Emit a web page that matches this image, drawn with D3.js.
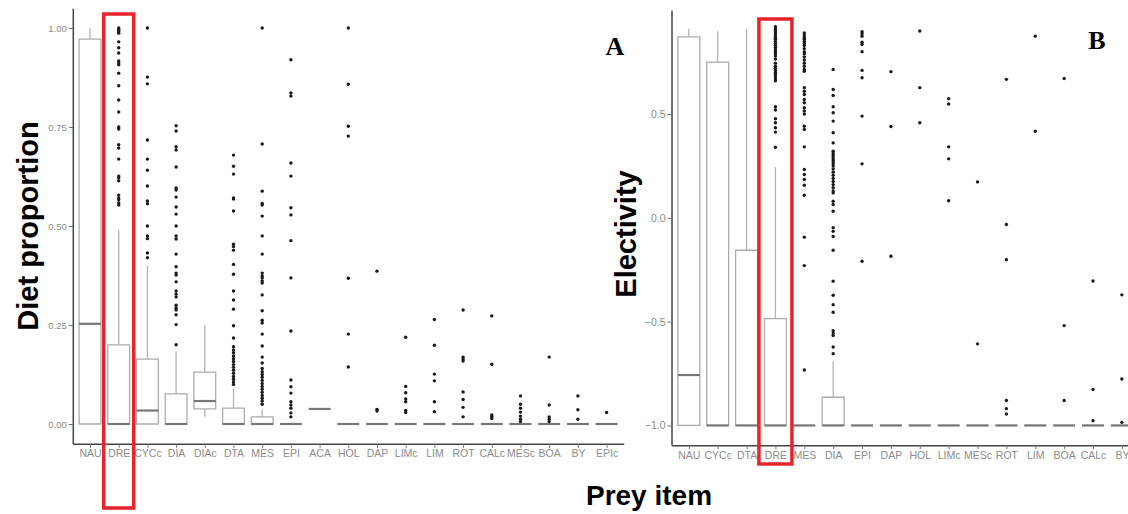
<!DOCTYPE html>
<html>
<head>
<meta charset="utf-8">
<script src="https://cdn.jsdelivr.net/npm/d3@7"></script>
<style>
  body { margin: 0; background: #fff; }
  svg { display: block; }
</style>
</head>
<body>
<figure id="chart" style="margin:0"></figure>
<script>
// ---- panel A: diet proportion ----
const catsA = ["NAU","DRE","CYCc","DIA","DIAc","DTA","MES","EPI","ACA","HOL","DAP","LIMc","LIM","ROT","CALc","MESc","BOA","BY","EPIc"];
const loA  = [0, 0, 0, 0, 0.018, 0, 0, 0, 0.038, 0, 0, 0, 0, 0, 0, 0, 0, 0, 0];
const q1A  = [0, 0, 0, 0, 0.038, 0, 0, 0, 0.038, 0, 0, 0, 0, 0, 0, 0, 0, 0, 0];
const medA = [0.253, 0, 0.034, 0, 0.058, 0, 0, 0, 0.038, 0, 0, 0, 0, 0, 0, 0, 0, 0, 0];
const q3A  = [0.972, 0.20, 0.164, 0.076, 0.131, 0.04, 0.018, 0, 0.038, 0, 0, 0, 0, 0, 0, 0, 0, 0, 0];
const hiA  = [1.0, 0.49, 0.40, 0.183, 0.25, 0.09, 0.037, 0, 0.038, 0, 0, 0, 0, 0, 0, 0, 0, 0, 0];
const outA = [
  [],
  [1.0,0.997,0.992,0.987,0.965,0.95,0.937,0.917,0.912,0.907,0.886,0.854,0.818,0.788,0.75,0.745,0.705,0.697,0.669,0.626,0.621,0.614,0.578,0.571,0.566,0.558,0.553],
  [1.0,0.876,0.859,0.717,0.669,0.641,0.601,0.563,0.556,0.5,0.475,0.468,0.432,0.42],
  [0.753,0.74,0.70,0.692,0.649,0.596,0.591,0.573,0.548,0.53,0.5,0.475,0.467,0.429,0.397,0.381,0.376,0.359,0.336,0.328,0.321,0.30,0.293,0.288,0.276,0.251,0.20],
  [],
  [0.679,0.651,0.631,0.571,0.568,0.538,0.454,0.448,0.439,0.403,0.378,0.336,0.313,0.29,0.248,0.217,0.195,0.187,0.18,0.172,0.165,0.158,0.15,0.143,0.136,0.128,0.12,0.113,0.106,0.10],
  [1.0,0.707,0.588,0.557,0.553,0.525,0.475,0.429,0.381,0.374,0.369,0.361,0.356,0.326,0.286,0.262,0.255,0.227,0.197,0.169,0.154,0.14,0.132,0.125,0.118,0.11,0.102,0.095,0.088,0.08,0.072,0.065,0.058,0.05],
  [0.92,0.836,0.828,0.659,0.626,0.546,0.528,0.463,0.369,0.235,0.111,0.094,0.078,0.056,0.048,0.04,0.028,0.018],
  [],
  [1.0,0.858,0.752,0.727,0.368,0.227,0.144],
  [0.386,0.037,0.033],
  [0.219,0.095,0.079,0.063,0.056,0.034,0.029],
  [0.264,0.199,0.126,0.109,0.056,0.031],
  [0.288,0.169,0.164,0.159,0.081,0.062,0.042,0.018],
  [0.273,0.151,0.023,0.018,0.014],
  [0.071,0.05,0.04,0.03,0.02,0.012,0.006],
  [0.169,0.048,0.018,0.012,0.006],
  [0.071,0.036,0.012],
  [0.029]
];
const ticksA = [0, 0.25, 0.5, 0.75, 1.0];

// ---- panel B: electivity ----
const catsB = ["NAU","CYCc","DTA","DRE","MES","DIA","EPI","DAP","HOL","LIMc","MESc","ROT","LIM","BOA","CALc","BY"];
const loB  = [-1, -1, -1, -1, -1, -1, -1, -1, -1, -1, -1, -1, -1, -1, -1, -1];
const q1B  = [-1, -1, -1, -1, -1, -1, -1, -1, -1, -1, -1, -1, -1, -1, -1, -1];
const medB = [-0.757, -1, -1, -1, -1, -1, -1, -1, -1, -1, -1, -1, -1, -1, -1, -1];
const q3B  = [0.872, 0.75, -0.156, -0.485, -1, -0.864, -1, -1, -1, -1, -1, -1, -1, -1, -1, -1];
const hiB  = [0.911, 0.899, 0.907, 0.244, -1, -0.691, -1, -1, -1, -1, -1, -1, -1, -1, -1, -1];
const outB = [
  [],
  [],
  [],
  [0.92,0.91,0.90,0.89,0.88,0.87,0.86,0.85,0.84,0.83,0.82,0.81,0.80,0.79,0.78,0.765,0.745,0.73,0.72,0.71,0.70,0.69,0.68,0.67,0.66,0.535,0.519,0.477,0.458,0.434,0.413,0.34],
  [0.891,0.88,0.87,0.86,0.85,0.84,0.83,0.815,0.80,0.79,0.775,0.76,0.745,0.73,0.715,0.706,0.627,0.61,0.594,0.57,0.554,0.53,0.515,0.50,0.441,0.426,0.342,0.233,0.209,0.185,0.157,0.109,-0.093,-0.23,-0.733],
  [0.715,0.618,0.589,0.535,0.506,0.466,0.41,0.361,0.321,0.31,0.30,0.29,0.28,0.27,0.26,0.25,0.235,0.22,0.205,0.19,0.175,0.16,0.145,0.13,0.12,0.08,0.064,0.032,-0.048,-0.065,-0.09,-0.156,-0.305,-0.373,-0.418,-0.455,-0.543,-0.555,-0.567,-0.622,-0.654],
  [0.896,0.887,0.875,0.846,0.835,0.80,0.71,0.675,0.49,0.26,-0.209],
  [0.704,0.44,-0.185],
  [0.9,0.627,0.458],
  [0.574,0.548,0.342,0.284,0.082],
  [0.173,-0.607],
  [0.667,-0.032,-0.202,-0.88,-0.919,-0.945],
  [0.875,0.417],
  [0.671,-0.519,-0.88],
  [-0.304,-0.827,-0.977],
  [-0.371,-0.776,-0.985]
];
const ticksB = [-1.0, -0.5, 0.0, 0.5];

const width = 1128, height = 514;

const svg = d3.select("#chart")
  .append("svg")
  .attr("width", width)
  .attr("height", height);

function drawPanel(cfg) {
  const x = d3.scalePoint()
    .domain(cfg.cats)
    .range(cfg.xRange)
    .padding(0.6);
  const y = d3.scaleLinear()
    .domain(cfg.yDomain)
    .range(cfg.yRange);
  const hw = x.step() * 0.38;

  const g = svg.append("g");

  // y axis
  const yAxis = g.append("g")
    .attr("transform", "translate(" + cfg.xRange[0] + ",0)")
    .call(d3.axisLeft(y).tickValues(cfg.ticks).tickFormat(cfg.fmt).tickSize(4).tickSizeOuter(0));
  yAxis.select(".domain").attr("stroke", "#444").attr("stroke-width", 1.5);
  yAxis.selectAll(".tick line").attr("stroke", "#777");
  yAxis.selectAll("text")
    .attr("fill", "#8c8c8c")
    .style("font-family", "Liberation Sans, Arial, sans-serif")
    .style("font-size", cfg.yFont + "px")
    .attr("x", -6);

  // x axis
  const xAxis = g.append("g")
    .attr("transform", "translate(0," + cfg.yRange[0] + ")")
    .call(d3.axisBottom(x).tickSize(4).tickSizeOuter(0));
  xAxis.select(".domain").attr("stroke", "#444").attr("stroke-width", 1.5);
  xAxis.selectAll(".tick line").attr("stroke", "#777");
  xAxis.selectAll("text")
    .attr("fill", "#8c8c8c")
    .attr("y", 6)
    .style("font-family", "Liberation Sans, Arial, sans-serif")
    .style("font-size", "10.5px");

  const rows = cfg.cats.map((c, i) => ({
    c: c, lo: cfg.lo[i], q1: cfg.q1[i], med: cfg.med[i], q3: cfg.q3[i], hi: cfg.hi[i], out: cfg.out[i]
  }));

  const box = g.selectAll(".box")
    .data(rows)
    .enter()
    .append("g")
    .attr("class", "box");

  // whiskers
  box.append("line")
    .attr("x1", d => x(d.c)).attr("x2", d => x(d.c))
    .attr("y1", d => y(d.q3)).attr("y2", d => y(d.hi))
    .attr("stroke", "#b4b4b4").attr("stroke-width", 1.3);
  box.append("line")
    .attr("x1", d => x(d.c)).attr("x2", d => x(d.c))
    .attr("y1", d => y(d.q1)).attr("y2", d => y(d.lo))
    .attr("stroke", "#b4b4b4").attr("stroke-width", 1.3);

  // box outline as path so flat boxes still show
  box.append("path")
    .attr("d", d => "M" + (x(d.c) - hw) + "," + y(d.q1) + "H" + (x(d.c) + hw) +
      "V" + y(d.q3) + "H" + (x(d.c) - hw) + "Z")
    .attr("fill", "#fff")
    .attr("stroke", "#acacac")
    .attr("stroke-width", 1.3);

  // median
  box.append("line")
    .attr("x1", d => x(d.c) - hw).attr("x2", d => x(d.c) + hw)
    .attr("y1", d => y(d.med)).attr("y2", d => y(d.med))
    .attr("stroke", "#777").attr("stroke-width", 2.2);

  // outliers
  box.selectAll("circle")
    .data(d => d.out.map(v => ({ c: d.c, v: v })))
    .enter()
    .append("circle")
    .attr("cx", d => x(d.c))
    .attr("cy", d => y(d.v))
    .attr("r", 1.7)
    .attr("fill", "#1a1a1a");

  // red highlight around DRE
  g.append("rect")
    .attr("x", x("DRE") - cfg.hl.hw)
    .attr("y", cfg.hl.top)
    .attr("width", cfg.hl.hw * 2)
    .attr("height", cfg.hl.bottom - cfg.hl.top)
    .attr("fill", "none")
    .attr("stroke", "#e8232b")
    .attr("stroke-width", 3.5);

  // axis title
  g.append("text")
    .attr("transform", "translate(" + cfg.title.x + "," + cfg.title.y + ") rotate(-90)")
    .attr("text-anchor", "middle")
    .style("font-family", "Liberation Sans, Arial, sans-serif")
    .style("font-weight", "bold")
    .style("font-size", "29px")
    .attr("fill", "#000")
    .text(cfg.title.text);

  // panel letter
  g.append("text")
    .attr("x", cfg.letter.x)
    .attr("y", cfg.letter.y)
    .attr("text-anchor", "middle")
    .style("font-family", "Liberation Serif, Times New Roman, serif")
    .style("font-weight", "bold")
    .style("font-size", "26px")
    .attr("fill", "#000")
    .text(cfg.letter.text);
}

drawPanel({
  cats: catsA, lo: loA, q1: q1A, med: medA, q3: q3A, hi: hiA, out: outA,
  ticks: ticksA, fmt: d3.format(".2f"), yFont: 9.5,
  xRange: [72.8, 623.8], yDomain: [-0.05, 1.05], yRange: [443.8, 8.2],
  hl: { hw: 15, top: 14, bottom: 508 },
  title: { text: "Diet proportion", x: 38, y: 226 },
  letter: { text: "A", x: 615, y: 55 }
});

drawPanel({
  cats: catsB, lo: loB, q1: q1B, med: medB, q3: q3B, hi: hiB, out: outB,
  ticks: ticksB, fmt: d3.format(".1f"), yFont: 10.5,
  xRange: [671.5, 1139.2], yDomain: [-1.095, 1.0], yRange: [445.2, 10.2],
  hl: { hw: 16.5, top: 19, bottom: 464 },
  title: { text: "Electivity", x: 636, y: 234 },
  letter: { text: "B", x: 1097, y: 49 }
});

svg.append("text")
  .attr("x", 649)
  .attr("y", 505)
  .attr("text-anchor", "middle")
  .style("font-family", "Liberation Sans, Arial, sans-serif")
  .style("font-weight", "bold")
  .style("font-size", "28px")
  .attr("fill", "#000")
  .text("Prey item");
</script>
</body>
</html>
